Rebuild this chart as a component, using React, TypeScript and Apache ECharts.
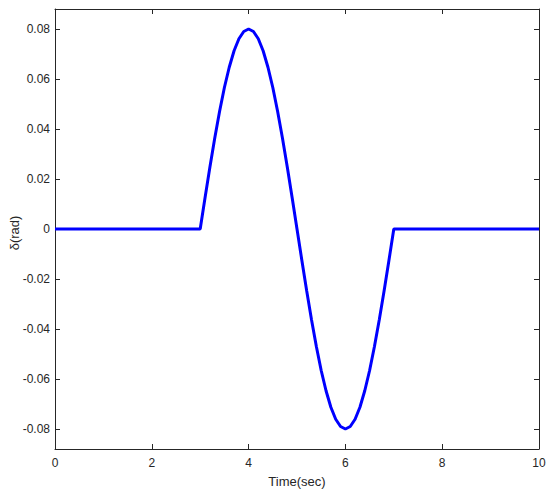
import React, { useEffect, useRef } from "react";
import * as echarts from "echarts";

const times: number[] = [
  0, 1, 2, 3, 3.1, 3.2, 3.3, 3.4, 3.5, 3.6, 3.7, 3.8, 3.9, 4.0,
  4.1, 4.2, 4.3, 4.4, 4.5, 4.6, 4.7, 4.8, 4.9, 5.0,
  5.1, 5.2, 5.3, 5.4, 5.5, 5.6, 5.7, 5.8, 5.9, 6.0,
  6.1, 6.2, 6.3, 6.4, 6.5, 6.6, 6.7, 6.8, 6.9, 7.0, 8, 9, 10,
];
const delta: number[] = [
  0, 0, 0, 0, 0.0125, 0.0247, 0.0363, 0.047, 0.0566, 0.0647, 0.0713, 0.0761, 0.079, 0.08,
  0.079, 0.0761, 0.0713, 0.0647, 0.0566, 0.047, 0.0363, 0.0247, 0.0125, 0,
  -0.0125, -0.0247, -0.0363, -0.047, -0.0566, -0.0647, -0.0713, -0.0761, -0.079, -0.08,
  -0.079, -0.0761, -0.0713, -0.0647, -0.0566, -0.047, -0.0363, -0.0247, -0.0125, 0, 0, 0, 0,
];
const xTicks: number[] = [0, 2, 4, 6, 8, 10];
const yTicks: number[] = [-0.08, -0.06, -0.04, -0.02, 0, 0.02, 0.04, 0.06, 0.08];

const AXIS_COLOR = "#262626";
const FONT = "Liberation Sans";

export default function App() {
  const ref = useRef<HTMLDivElement>(null);
  useEffect(() => {
    document.body.style.margin = "0";
    if (!ref.current) return;
    const chart = echarts.init(ref.current, null, { renderer: "svg" });
    const axisLine = { show: true, onZero: false, lineStyle: { color: AXIS_COLOR, width: 1 } };
    const axisTick = { show: true, inside: true, length: 5, lineStyle: { color: AXIS_COLOR } };
    const fmtY = (v: number) => {
      const r = Math.round(v * 100) / 100;
      return r === 0 ? "0" : String(r);
    };
    chart.setOption({
      animation: false,
      backgroundColor: "#ffffff",
      grid: { left: 55, right: 11, top: 9, bottom: 49, containLabel: false, outerBoundsMode: "none" },
      xAxis: [
        {
          type: "value",
          min: 0,
          max: 10,
          interval: 2,
          position: "bottom",
          axisLine,
          axisTick,
          splitLine: { show: false },
          axisLabel: { color: AXIS_COLOR, fontFamily: FONT, fontSize: 12, margin: 8,
            formatter: (v: number) => (xTicks.includes(v) ? String(v) : "") },
          name: "Time(sec)",
          nameLocation: "middle",
          nameGap: 26,
          nameMoveOverlap: false,
          nameTextStyle: { color: AXIS_COLOR, fontFamily: FONT, fontSize: 13 },
        },
        {
          type: "value",
          min: 0,
          max: 10,
          interval: 2,
          position: "top",
          axisLine,
          axisTick,
          splitLine: { show: false },
          axisLabel: { show: false },
        },
      ],
      yAxis: [
        {
          type: "value",
          min: -0.088,
          max: 0.088,
          position: "left",
          axisLine,
          axisTick: { ...axisTick, customValues: yTicks },
          splitLine: { show: false },
          axisLabel: { color: AXIS_COLOR, fontFamily: FONT, fontSize: 12, margin: 5,
            customValues: yTicks, formatter: fmtY },
          name: "δ(rad)",
          nameLocation: "middle",
          nameGap: 34,
          nameMoveOverlap: false,
          nameTextStyle: { color: AXIS_COLOR, fontFamily: FONT, fontSize: 13, padding: [0, 0, 0, -8] },
        },
        {
          type: "value",
          min: -0.088,
          max: 0.088,
          position: "right",
          axisLine,
          axisTick: { ...axisTick, customValues: yTicks },
          splitLine: { show: false },
          axisLabel: { show: false },
        },
      ],
      series: [
        {
          type: "line",
          data: times.map((t, i) => [t, delta[i]]),
          showSymbol: false,
          smooth: false,
          lineStyle: { color: "#0000ff", width: 3 },
          xAxisIndex: 0,
          yAxisIndex: 0,
        },
      ],
    });
    return () => chart.dispose();
  }, []);
  return <div ref={ref} style={{ width: 550, height: 498 }} />;
}
